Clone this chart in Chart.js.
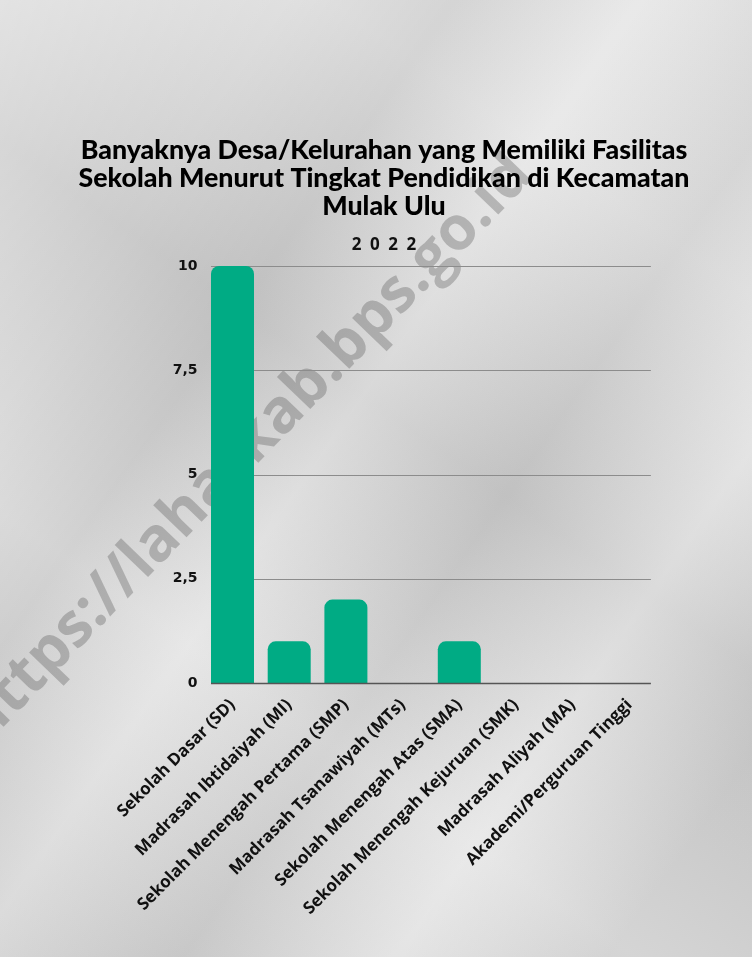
<!DOCTYPE html>
<html>
<head>
<meta charset="utf-8">
<script src="https://cdn.jsdelivr.net/npm/chart.js@4.4.1/dist/chart.umd.min.js"></script>
<style>
  html, body { margin: 0; padding: 0; }
  body {
    width: 752px; height: 957px; overflow: hidden; position: relative;
    background:
      linear-gradient(125deg, rgba(255,255,255,0.35) 0%, rgba(255,255,255,0) 20%, rgba(0,0,0,0.06) 32%, rgba(255,255,255,0.25) 45%, rgba(0,0,0,0.05) 60%, rgba(255,255,255,0.3) 75%, rgba(0,0,0,0.05) 90%),
      linear-gradient(35deg, rgba(0,0,0,0.05) 0%, rgba(255,255,255,0.2) 30%, rgba(0,0,0,0.06) 55%, rgba(255,255,255,0.25) 80%),
      #d8d8d8;
  }
  #wm {
    position: absolute; left: 243px; top: 445px;
    transform: translate(-50%, -50%) rotate(-46deg);
    font-family: "Open Sans", sans-serif; font-weight: 700; font-size: 61px;
    color: rgba(80,80,80,0.32); white-space: nowrap; pointer-events: none;
  }
  #c { position: absolute; left: 0; top: 0; }
</style>
</head>
<body>
<div id="wm">https://lahatkab.bps.go.id</div>
<canvas id="c" width="752" height="957"></canvas>
<script>
const categories = [
  "Sekolah Dasar (SD)",
  "Madrasah Ibtidaiyah (MI)",
  "Sekolah Menengah Pertama (SMP)",
  "Madrasah Tsanawiyah (MTs)",
  "Sekolah Menengah Atas (SMA)",
  "Sekolah Menengah Kejuruan (SMK)",
  "Madrasah Aliyah (MA)",
  "Akademi/Perguruan Tinggi"
];
const values = [10, 1, 2, 0, 1, 0, 0, 0];
const yTicks = [0, 2.5, 5, 7.5, 10];
const titleLines = [
  "Banyaknya Desa/Kelurahan yang Memiliki Fasilitas",
  "Sekolah Menurut Tingkat Pendidikan di Kecamatan",
  "Mulak Ulu"
];
const subtitleText = "2\u20020\u20022\u20022";

// fit title font size to the reference line width (~607px)
const TITLE_FAMILY = 'Lato, "Open Sans", sans-serif';
const mctx = document.createElement('canvas').getContext('2d');
mctx.font = '900 100px ' + TITLE_FAMILY;
const titleSize = 100 * 607 / mctx.measureText(titleLines[0]).width;

const gridPlugin = {
  id: 'extGrid',
  beforeDatasetsDraw(chart) { drawLines(chart, v => v !== 0); },
  afterDatasetsDraw(chart) { drawLines(chart, v => v === 0); }
};
function drawLines(chart, filter) {
  const ctx = chart.ctx, y = chart.scales.y, a = chart.chartArea;
  const ext = 21.5;
  ctx.save();
  yTicks.filter(filter).forEach(v => {
    const py = Math.round(y.getPixelForValue(v)) + 0.5;
    ctx.beginPath();
    ctx.strokeStyle = v === 0 ? '#555555' : '#8c8c8c';
    ctx.lineWidth = v === 0 ? 1.5 : 1;
    ctx.moveTo(a.left - ext, py);
    ctx.lineTo(a.right + ext, py);
    ctx.stroke();
  });
  ctx.restore();
}

new Chart(document.getElementById('c'), {
  type: 'bar',
  data: {
    labels: categories,
    datasets: [{
      data: values,
      backgroundColor: '#00ab84',
      borderWidth: 0,
      inflateAmount: 0,
      borderRadius: { topLeft: 8, topRight: 8, bottomLeft: 0, bottomRight: 0 },
      borderSkipped: 'bottom',
      barThickness: 43,
      clip: false
    }]
  },
  options: {
    responsive: false,
    animation: false,
    devicePixelRatio: 1,
    layout: { padding: { top: 136, left: 16, right: 0, bottom: 0 } },
    plugins: {
      legend: { display: false },
      tooltip: { enabled: false },
      title: {
        display: true,
        text: titleLines,
        color: '#000',
        font: { family: TITLE_FAMILY, weight: '900', size: titleSize, lineHeight: 28 / titleSize },
        padding: { top: 0, bottom: 15 }
      },
      subtitle: {
        display: true,
        text: subtitleText,
        color: '#111',
        font: { family: '"Open Sans", sans-serif', weight: 'bold', size: 17, lineHeight: 1.2 },
        padding: { top: 0, bottom: 10.6 }
      }
    },
    scales: {
      x: {
        offset: false,
        grid: { display: false },
        border: { display: false },
        ticks: {
          autoSkip: false, maxRotation: 45, minRotation: 45,
          color: '#111', padding: 4,
          font: { family: '"Open Sans", sans-serif', weight: 'bold', size: 17 }
        },
        afterFit(scale) { scale.height = 274; }
      },
      y: {
        min: 0, max: 10,
        afterBuildTicks(scale) { scale.ticks = yTicks.map(v => ({ value: v })); },
        grid: { display: false, drawTicks: false },
        border: { display: false },
        ticks: {
          padding: 35,
          color: '#111',
          font: { family: '"DejaVu Sans", sans-serif', weight: 'bold', size: 14 },
          callback: v => String(v).replace('.', ',')
        },
        afterFit(scale) { scale.width = 216.5; }
      },
      yRight: {
        position: 'right',
        min: 0, max: 10,
        grid: { display: false, drawTicks: false },
        border: { display: false },
        ticks: { display: false },
        afterFit(scale) { scale.width = 122.6; }
      }
    }
  },
  plugins: [gridPlugin]
});
</script>
</body>
</html>
